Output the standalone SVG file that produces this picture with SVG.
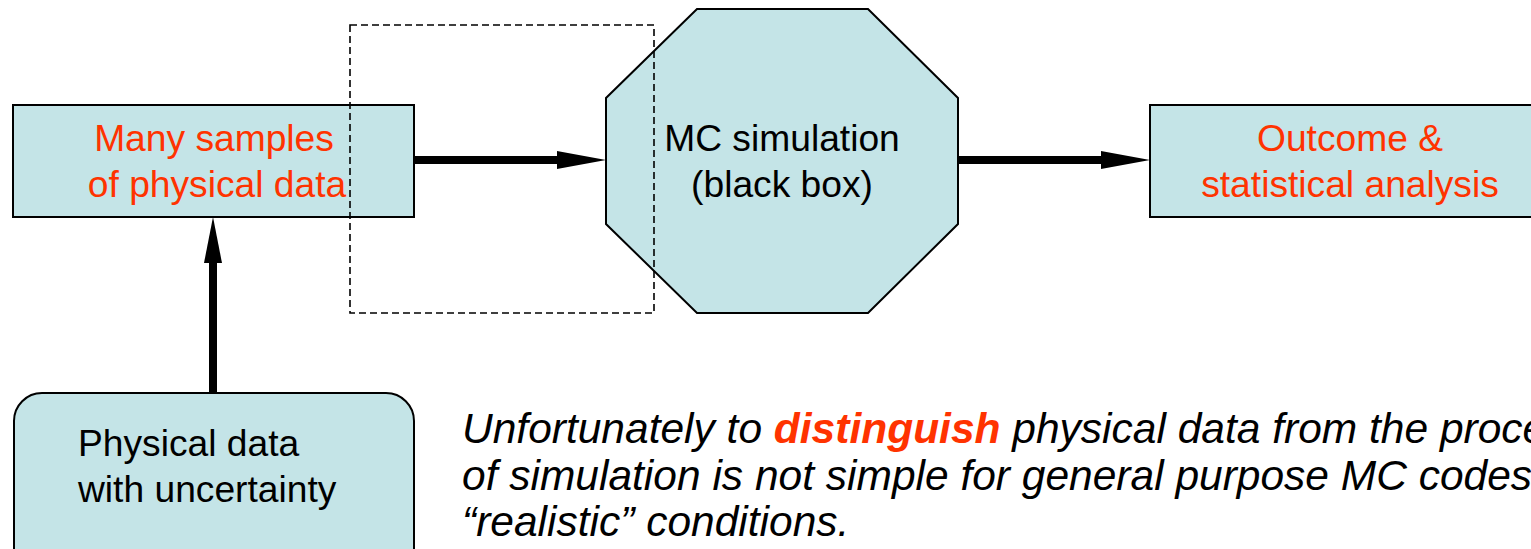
<svg xmlns="http://www.w3.org/2000/svg" width="1531" height="549" viewBox="0 0 1531 549">
<style>
.box{fill:#c4e4e7;stroke:#000;stroke-width:2}
.t{font-family:"Liberation Sans",Arial,sans-serif;font-size:37.2px;text-anchor:middle}
.red{fill:#ff3300}
.blk{fill:#000}
.it{font-family:"Liberation Sans",Arial,sans-serif;font-size:42.5px;font-style:italic;fill:#000}
.conn{stroke:#000;stroke-width:8;fill:none}
.head{fill:#000;stroke:none}
</style>
<rect width="1531" height="549" fill="#fff"/>
<g id="node-samples">
<rect class="box" x="13" y="105" width="401" height="112"/>
<text class="t red" x="214" y="151">Many samples</text>
<text class="t red" x="217" y="197">of physical data</text>
</g>
<g id="node-mc">
<polygon class="box" points="697,9 868,9 958,98 958,224 868,313 697,313 606,224 606,98"/>
<text class="t blk" x="782" y="151">MC simulation</text>
<text class="t blk" x="782" y="197">(black box)</text>
</g>
<g id="node-outcome">
<rect class="box" x="1150" y="105" width="400" height="112"/>
<text class="t red" x="1350" y="151">Outcome &amp;</text>
<text class="t red" x="1350" y="197">statistical analysis</text>
</g>
<g id="node-physical">
<rect class="box" x="14" y="393" width="400" height="200" rx="28" ry="28"/>
<text class="t blk" x="78" y="456" style="text-anchor:start">Physical data</text>
<text class="t blk" x="78" y="502" style="text-anchor:start">with uncertainty</text>
</g>
<g id="dashed-region">
<rect x="350" y="25" width="304" height="288" fill="none" stroke="#000" stroke-width="1.6" stroke-dasharray="7,4"/>
</g>
<g id="connectors">
<line class="conn" x1="414" y1="160" x2="560" y2="160"/>
<polygon class="head" points="557,151 606,160 557,169"/>
<line class="conn" x1="958" y1="160" x2="1104" y2="160"/>
<polygon class="head" points="1101,151 1150,160 1101,169"/>
<line class="conn" x1="213" y1="393" x2="213" y2="258"/>
<polygon class="head" points="204,263 213,217 222,263"/>
</g>
<g id="note">
<text class="it" x="462" y="443">Unfortunately to <tspan fill="#ff3300" font-weight="bold">distinguish</tspan> physical data from the proce</text>
<text class="it" x="462" y="490">of simulation is not simple for general purpose MC codes</text>
<text class="it" x="462" y="536">“realistic” conditions.</text>
</g>
</svg>
